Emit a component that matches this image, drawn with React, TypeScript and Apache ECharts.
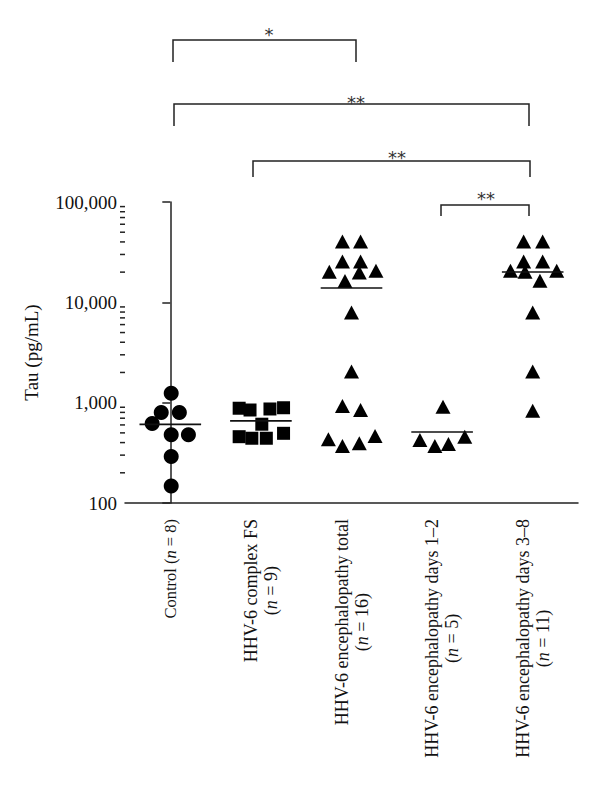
import React, { useEffect, useRef } from "react";
import * as echarts from "echarts";

// ---------- data ----------
const categories = [
  "Control",
  "HHV-6 complex FS",
  "HHV-6 encephalopathy total",
  "HHV-6 encephalopathy days 1–2",
  "HHV-6 encephalopathy days 3–8",
];
const groupN = [8, 9, 16, 5, 11];
const groupSymbols = ["circle", "rect", "triangle", "triangle", "triangle"];

const controlTau = [1240, 800, 800, 620, 480, 480, 290, 148];
const controlJitter = [0.01, -0.1, 0.1, -0.2, 0.01, 0.2, 0.01, 0.01];

const complexFsTau = [880, 845, 865, 890, 610, 458, 442, 442, 495];
const complexFsJitter = [-0.24, -0.12, 0.1, 0.25, 0.01, -0.24, -0.1, 0.06, 0.25];

const totalTau = [40300, 40300, 25500, 25500, 20200, 19800, 20700, 16300, 7900, 2040, 927, 846, 432, 370, 394, 466];
const totalJitter = [-0.1, 0.1, -0.1, 0.1, -0.245, 0.086, 0.27, -0.072, 0, 0, -0.1, 0.1, -0.255, -0.1, 0.086, 0.26];

const days12Tau = [912, 425, 370, 387, 458];
const days12Jitter = [0.01, -0.245, -0.08, 0.07, 0.25];

const days38Tau = [40300, 40300, 25500, 25500, 20700, 20200, 20700, 16400, 7900, 2040, 830];
const days38Jitter = [-0.1, 0.11, -0.1, 0.11, -0.245, -0.085, 0.265, 0.08, 0, 0, 0];

const groupValues = [controlTau, complexFsTau, totalTau, days12Tau, days38Tau];
const groupJitters = [controlJitter, complexFsJitter, totalJitter, days12Jitter, days38Jitter];

const minorTickValues = [200, 300, 400, 500, 600, 700, 800, 900, 2000, 3000, 4000, 5000, 6000, 7000, 8000, 9000, 20000, 30000, 40000, 50000, 60000, 70000, 80000, 90000];

const significanceLabels = ["*", "**", "**", "**"];

// ---------- layout ----------
const SERIF = '"Liberation Serif", "Times New Roman", serif';
const INK = "#111";
const bracketLayout = [
  { x1: 173, x2: 356, y: 40, leg: 62, tx: 269, ty: 34 },
  { x1: 174, x2: 529, y: 104, leg: 126, tx: 356, ty: 102 },
  { x1: 253, x2: 530, y: 161, leg: 177, tx: 397, ty: 157 },
  { x1: 441, x2: 529, y: 205, leg: 216, tx: 486, ty: 198 },
];

const mean = (a: number[]) => a.reduce((s, v) => s + v, 0) / a.length;

export default function App() {
  const ref = useRef<HTMLDivElement>(null);

  useEffect(() => {
    if (!ref.current) return;
    const chart = echarts.init(ref.current, null, { renderer: "svg" });

    const scatterSeries = groupValues.map((vals, gi) => ({
      type: "scatter",
      name: categories[gi],
      xAxisIndex: 1,
      yAxisIndex: 0,
      symbol: groupSymbols[gi],
      symbolSize: gi === 0 ? 15 : gi === 1 ? 13 : [15, 14],
      itemStyle: { color: "#000", opacity: 1 },
      data: vals.map((v, k) => [gi + groupJitters[gi][k], v]),
      z: 3,
    }));

    const meanSeries = {
      type: "custom",
      xAxisIndex: 1,
      yAxisIndex: 0,
      z: 5,
      data: groupValues.map((vals, gi) => [gi, mean(vals)]),
      renderItem: (params: any, api: any) => {
        const i = api.value(0);
        const m = api.value(1);
        const a = api.coord([i - 0.34, m]);
        const b = api.coord([i + 0.34, m]);
        return {
          type: "line",
          shape: { x1: a[0], y1: a[1], x2: b[0], y2: b[1] },
          style: { stroke: INK, lineWidth: 1.6 },
        };
      },
    };

    const minorTickSeries = {
      type: "custom",
      xAxisIndex: 1,
      yAxisIndex: 0,
      clip: false,
      silent: true,
      data: minorTickValues.map((v) => [-0.5, v]),
      renderItem: (params: any, api: any) => {
        const p = api.coord([api.value(0), api.value(1)]);
        return {
          type: "line",
          shape: { x1: p[0] - 5, y1: p[1], x2: p[0], y2: p[1] },
          style: { stroke: "#222", lineWidth: 1.5 },
        };
      },
    };

    const graphic: any[] = [];
    bracketLayout.forEach((b, k) => {
      graphic.push({
        type: "polyline",
        shape: { points: [[b.x1, b.leg], [b.x1, b.y], [b.x2, b.y], [b.x2, b.leg]] },
        style: { stroke: "#222", lineWidth: 1.5, fill: "none" },
      });
      graphic.push({
        type: "text",
        x: b.tx,
        y: b.ty,
        style: {
          text: significanceLabels[k],
          fontFamily: '"DejaVu Sans", sans-serif',
          fontSize: 18,
          fill: "#333",
          align: "center",
          verticalAlign: "middle",
        },
      });
    });

    const base = { fontFamily: SERIF, color: INK, align: "center" };

    chart.setOption({
      animation: false,
      backgroundColor: "#fff",
      grid: { left: 125, right: 22, top: 202, bottom: 285, containLabel: false },
      xAxis: [
        {
          type: "category",
          data: categories,
          boundaryGap: true,
          axisLine: { lineStyle: { color: "#222", width: 1.5 } },
          axisTick: { alignWithLabel: true, length: 8, lineStyle: { color: "#222", width: 1.5 } },
          splitLine: { show: false },
          axisLabel: {
            rotate: 90,
            margin: 16,
            interval: 0,
            formatter: (value: string, index: number) =>
              index === 0
                ? `{c|${value} (}{ci|n}{c| = ${groupN[index]})}`
                : `{w|${value}}\n{w|(}{wi|n}{w| = ${groupN[index]})}`,
            rich: {
              w: { ...base, fontSize: 18, lineHeight: 20 },
              wi: { ...base, fontSize: 18, lineHeight: 20, fontStyle: "italic" },
              c: { ...base, fontSize: 16.5, lineHeight: 20 },
              ci: { ...base, fontSize: 16.5, lineHeight: 20, fontStyle: "italic" },
            },
          },
        },
        { type: "value", min: -0.5, max: 4.5, show: false },
      ],
      yAxis: {
        type: "log",
        logBase: 10,
        min: 100,
        max: 100000,
        name: "Tau (pg/mL)",
        nameLocation: "middle",
        nameGap: 84,
        nameRotate: 90,
        nameTextStyle: { fontFamily: SERIF, fontSize: 19, color: INK },
        axisLine: { show: true, lineStyle: { color: "#222", width: 1.5 } },
        axisTick: { show: true, length: 8, lineStyle: { color: "#222", width: 1.5 } },
        splitLine: { show: false },
        axisLabel: {
          margin: 8,
          fontFamily: SERIF,
          fontSize: 19,
          color: INK,
          formatter: (v: number) => Math.round(v).toLocaleString("en-US"),
        },
      },
      series: [...scatterSeries, meanSeries, minorTickSeries],
      graphic,
    });

    return () => chart.dispose();
  }, []);

  return (
    <div
      ref={ref}
      style={{ position: "absolute", left: 0, top: 0, width: 600, height: 788 }}
    />
  );
}
